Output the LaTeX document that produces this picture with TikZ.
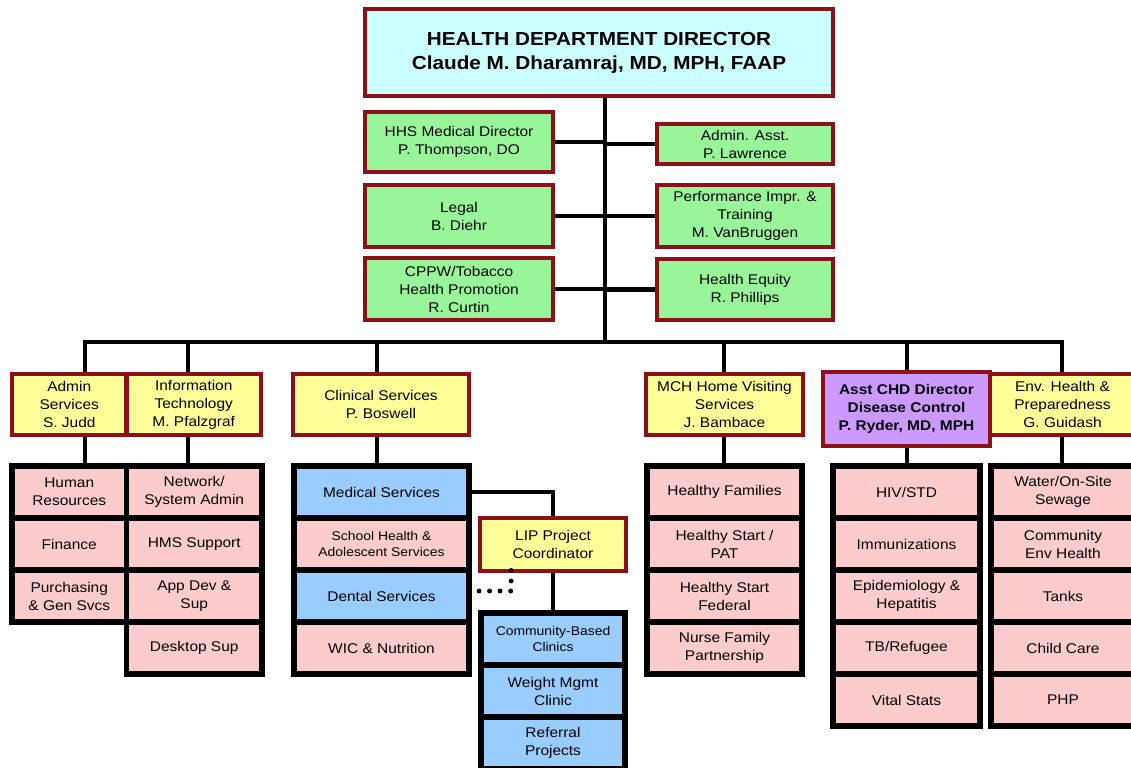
\documentclass[tikz,border=0pt]{standalone}
\usepackage{fontspec}
\setmainfont{Liberation Sans}[FakeStretch=1.1]
\usetikzlibrary{positioning}
\definecolor{framered}{HTML}{8C1018}
\definecolor{dirfill}{HTML}{CCFFFF}
\definecolor{staffgreen}{HTML}{99F599}
\definecolor{divyellow}{HTML}{FFFF99}
\definecolor{unitpink}{HTML}{FCCCCC}
\definecolor{unitblue}{HTML}{99CCFF}
\definecolor{dcpurple}{HTML}{CC99FF}

\begin{document}
\begin{tikzpicture}[x=0.025cm,y=-0.025cm,
  boxsize/.style 2 args={minimum width=#1*0.025cm,minimum height=#2*0.025cm},
  head/.style={draw=framered,line width=2.9pt,align=center,inner sep=2pt,font=\fontsize{10}{12.8}\selectfont},
  cell/.style={draw=black,line width=4pt,fill=unitpink,align=center,inner sep=2pt,font=\fontsize{10}{12.8}\selectfont},
  smalltext/.style={font=\fontsize{9}{12}\selectfont},
  link/.style={line width=3.3pt},
  dots/.style={line width=3.5pt,line cap=round,dash pattern=on 0pt off 7.5pt}]
\useasboundingbox (0,0) rectangle (1131,768);
\clip (0,0) rectangle (1131,768);
\fill[white] (0,0) rectangle (1131,768);

% director and staff
\node[head,fill=dirfill,boxsize={468}{87},font=\bfseries\fontsize{13.4}{17}\selectfont] (dir) at (599,52.5) {HEALTH DEPARTMENT DIRECTOR\\Claude M. Dharamraj, MD, MPH, FAAP};
\node[head,fill=staffgreen,boxsize={188}{60}] (hhs) at (459,142) {HHS Medical Director\\P. Thompson, DO};
\node[head,fill=staffgreen,boxsize={188}{62}] (legal) at (459,216) {Legal\\B. Diehr};
\node[head,fill=staffgreen,boxsize={188}{62}] (cppw) at (459,289) {CPPW/Tobacco\\Health Promotion\\R. Curtin};
\node[head,fill=staffgreen,boxsize={176}{40}] (aasst) at (745,144) {Admin. Asst.\\P. Lawrence};
\node[head,fill=staffgreen,boxsize={176}{62}] (perf) at (745,216) {Performance Impr. \&\\Training\\M. VanBruggen};
\node[head,fill=staffgreen,boxsize={176}{61}] (equity) at (745,289.5) {Health Equity\\R. Phillips};

\coordinate (trunk) at (605,342);
\draw[link] (trunk |- dir.south) -- (trunk);
\draw[link] (hhs.east) -- (hhs.east -| trunk);
\draw[link] (legal.east) -- (legal.east -| trunk);
\draw[link] (cppw.east) -- (cppw.east -| trunk);
\draw[link] (aasst.west) -- (aasst.west -| trunk);
\draw[link] (perf.west) -- (perf.west -| trunk);
\draw[link] (equity.west) -- (equity.west -| trunk);

% divisions
\node[head,fill=divyellow,boxsize={114.5}{61}] (admin) at (69.25,404.5) {Admin\\Services\\S. Judd};
\node[head,fill=divyellow,boxsize={134.5}{61}] (it) at (193.75,404.5) {Information\\Technology\\M. Pfalzgraf};
\node[head,fill=divyellow,boxsize={176}{61}] (clin) at (381,404.5) {Clinical Services\\P. Boswell};
\node[head,fill=divyellow,boxsize={157}{61}] (mch) at (724.5,404.5) {MCH Home Visiting\\Services\\J. Bambace};
\node[head,fill=divyellow,boxsize={145}{61}] (env) at (1062.5,404.5) {Env. Health \&\\Preparedness\\G. Guidash};
\node[head,fill=dcpurple,boxsize={167}{74},font=\bfseries\fontsize{10}{12.8}\selectfont] (asst) at (906.5,409) {Asst CHD Director\\Disease Control\\P. Ryder, MD, MPH};

\coordinate (dA) at (85,342);
\coordinate (dIT) at (188,342);
\coordinate (dCS) at (377,342);
\coordinate (dMCH) at (724,342);
\coordinate (dDC) at (907,342);
\coordinate (dEH) at (1062,342);
\draw[link] (dA |- admin.north) -- (dA) -- (dEH) -- (dEH |- env.north);
\draw[link] (dIT) -- (dIT |- it.north);
\draw[link] (dCS) -- (dCS |- clin.north);
\draw[link] (dMCH) -- (dMCH |- mch.north);
\draw[link] (dDC) -- (dDC |- asst.north);

% units
\node[cell,boxsize={114.5}{52}] (hr) at (69.25,492) {Human\\Resources};
\node[cell,boxsize={114.5}{52}] (fin) at (69.25,544) {Finance};
\node[cell,boxsize={114.5}{52}] (purch) at (69.25,596) {Purchasing\\\& Gen Svcs};
\node[cell,boxsize={135.5}{52}] (net) at (194.25,492) {Network/\\System Admin};
\node[cell,boxsize={135.5}{52}] (hms) at (194.25,544) {HMS Support};
\node[cell,boxsize={135.5}{52}] (appdev) at (194.25,596) {App Dev \&\\Sup};
\node[cell,boxsize={135.5}{52}] (desk) at (194.25,648) {Desktop Sup};

\node[cell,fill=unitblue,boxsize={175}{52}] (med) at (381.5,492) {Medical Services};
\node[cell,smalltext,boxsize={175}{52}] (school) at (381.5,544) {School Health \&\\Adolescent Services};
\node[cell,fill=unitblue,boxsize={175}{52}] (dental) at (381.5,596) {Dental Services};
\node[cell,boxsize={175}{52}] (wic) at (381.5,648) {WIC \& Nutrition};

\node[head,fill=divyellow,boxsize={146}{53}] (lip) at (553,544.5) {LIP Project\\Coordinator};
\node[cell,fill=unitblue,smalltext,boxsize={144}{52}] (cbc) at (553,639) {Community-Based\\Clinics};
\node[cell,fill=unitblue,boxsize={144}{52}] (wmc) at (553,691) {Weight Mgmt\\Clinic};
\node[cell,fill=unitblue,boxsize={144}{52}] (refp) at (553,743) {Referral\\Projects};

\node[cell,boxsize={155}{52}] (hf) at (724.5,492) {Healthy Families};
\node[cell,boxsize={155}{52}] (hsp) at (724.5,544) {Healthy Start /\\PAT};
\node[cell,boxsize={155}{52}] (hsf) at (724.5,596) {Healthy Start\\Federal};
\node[cell,boxsize={155}{52}] (nfp) at (724.5,648) {Nurse Family\\Partnership};

\node[cell,boxsize={147}{52}] (hiv) at (906.5,492) {HIV/STD};
\node[cell,boxsize={147}{52}] (imm) at (906.5,544) {Immunizations};
\node[cell,boxsize={147}{52}] (epi) at (906.5,596) {Epidemiology \&\\Hepatitis};
\node[cell,boxsize={147}{52}] (tb) at (906.5,648) {TB/Refugee};
\node[cell,boxsize={147}{52}] (vs) at (906.5,700) {Vital Stats};

\node[cell,boxsize={144}{52}] (water) at (1063,492) {Water/On-Site\\Sewage};
\node[cell,boxsize={144}{52}] (cenv) at (1063,544) {Community\\Env Health};
\node[cell,boxsize={144}{52}] (tanks) at (1063,596) {Tanks};
\node[cell,boxsize={144}{52}] (cc) at (1063,648) {Child Care};
\node[cell,boxsize={144}{52}] (php) at (1063,700) {PHP};

\draw[link] (dA |- admin.south) -- (dA |- hr.north);
\draw[link] (dIT |- it.south) -- (dIT |- net.north);
\draw[link] (dCS |- clin.south) -- (dCS |- med.north);
\draw[link] (dMCH |- mch.south) -- (dMCH |- hf.north);
\draw[link] (dDC |- asst.south) -- (dDC |- hiv.north);
\draw[link] (dEH |- env.south) -- (dEH |- water.north);
\draw[link] (med.east) -| (lip.north);
\draw[link] (lip.south) -- (cbc.north);
\draw[dots] ([xshift=0.18cm,yshift=0.125cm]dental.east) -| ([xshift=0.83cm,yshift=0.1cm]lip.south west);

\end{tikzpicture}
\end{document}
